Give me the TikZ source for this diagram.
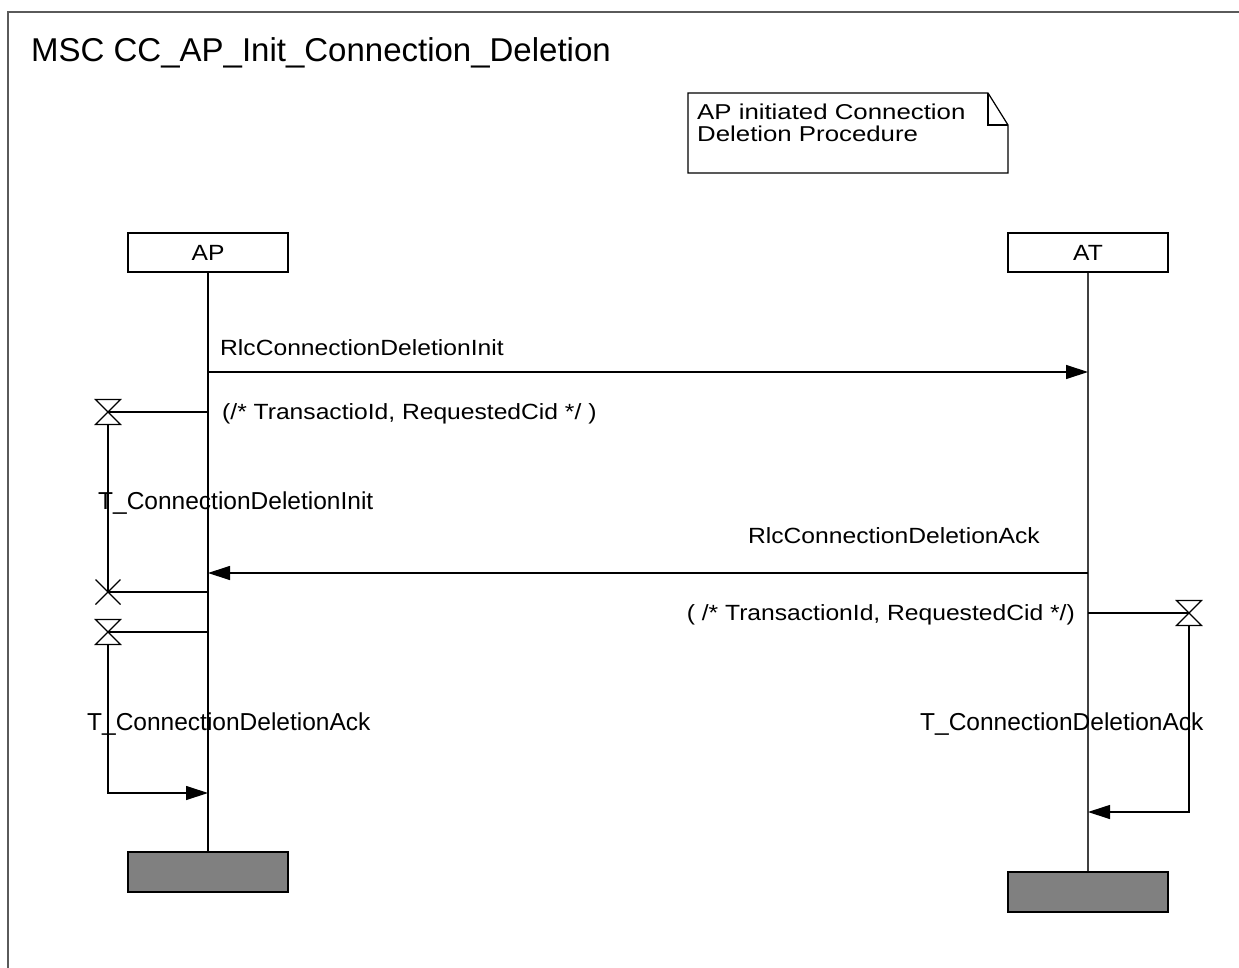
\documentclass[tikz,border=0pt]{standalone}
\usepackage{fontspec}
\setmainfont{Liberation Sans}
\newfontfamily\msgfont[FakeStretch=1.12]{Liberation Sans}
\newfontfamily\notefont[FakeStretch=1.2]{Liberation Sans}
\usetikzlibrary{arrows.meta}
\definecolor{endgray}{RGB}{128,128,128}
\definecolor{framegray}{RGB}{90,90,90}
\begin{document}
\begin{tikzpicture}[x=1pt,y=-1pt,
  ln/.style={line width=1.2pt, draw=black},
  msg/.style={ln, -{Triangle[length=22pt,width=14pt]}},
  headbox/.style={draw, line width=1.2pt, minimum width=160pt, minimum height=39pt, inner sep=0pt, font=\msgfont\fontsize{22}{26}\selectfont},
  endbox/.style={draw, line width=1.5pt, fill=endgray, minimum width=160pt, minimum height=40pt, inner sep=0pt},
  mlabel/.style={font=\msgfont\fontsize{22}{26}\selectfont, inner sep=0pt},
  tlabel/.style={font=\fontsize{24.5}{28}\selectfont, inner sep=0pt},
  nlabel/.style={font=\notefont\fontsize{21.5}{26}\selectfont, inner sep=0pt, anchor=base west},
  hourglass/.pic={\draw[ln] (-12.5,-12.5) -- (12.5,-12.5) -- (-12.5,12.5) -- (12.5,12.5) -- cycle;},
  timercross/.pic={\draw[ln] (-12.5,-12.5) -- (12.5,12.5) (12.5,-12.5) -- (-12.5,12.5);}
]
\useasboundingbox (0,0) rectangle (1239,968);
\fill[white] (0,0) rectangle (1239,968);

% frame
\draw[line width=1.5pt, framegray] (8,968) -- (8,12) -- (1239,12);
\node[anchor=base west, font=\fontsize{33}{38}\selectfont, inner sep=0pt] (title) at (31,62) {MSC CC\_AP\_Init\_Connection\_Deletion};

% comment note
\draw[ln] (688,93) -- (988,93) -- (1008,125) -- (1008,173) -- (688,173) -- cycle;
\draw[ln] (988,93) -- (988,125) -- (1008,125);
\node[nlabel] (note1) at (697,120) {AP initiated Connection};
\node[nlabel] (note2) at (697,142) {Deletion Procedure};

% instances
\node[headbox] (aphead) at (208,252.5) {AP};
\node[headbox] (athead) at (1088,252.5) {AT};
\node[endbox] (apend) at (208,872) {};
\node[endbox] (atend) at (1088,892) {};
\draw[ln] (aphead.south) -- (apend.north);
\draw[ln, draw=black!75] (athead.south) -- (atend.north);

% message 1
\coordinate (m1a) at (208,372);
\coordinate (m1b) at (1088,372);
\draw[msg] (m1a) -- (m1b);
\node[mlabel, anchor=base west] (l1) at (220,355) {RlcConnectionDeletionInit};
\node[mlabel, anchor=base west] (p1) at (222,419) {(/* TransactioId, RequestedCid */ )};

% timer 1 on AP (set, then reset)
\coordinate (t1on) at (208,412);
\coordinate (t1) at (108,412);
\coordinate (t1bot) at (108,424.5);
\coordinate (t1x) at (108,592);
\coordinate (t1off) at (208,592);
\draw[ln] (t1on) -- (t1);
\pic at (t1) {hourglass};
\draw[ln] (t1bot) -- (t1x);
\pic at (t1x) {timercross};
\draw[ln] (t1x) -- (t1off);
\node[tlabel, anchor=base west] (tl1) at (98,509) {T\_ConnectionDeletionInit};

% message 2
\coordinate (m2a) at (1088,573);
\coordinate (m2b) at (208,573);
\draw[msg] (m2a) -- (m2b);
\node[mlabel, anchor=base east] (l2) at (1040,543) {RlcConnectionDeletionAck};
\node[mlabel, anchor=base east] (p2) at (1075,620) {( /* TransactionId, RequestedCid */)};

% timer 2 on AP (set, then timeout)
\coordinate (t2on) at (208,632);
\coordinate (t2) at (108,632);
\coordinate (t2bot) at (108,644.5);
\coordinate (t2c) at (108,793);
\coordinate (t2off) at (208,793);
\draw[ln] (t2on) -- (t2);
\pic at (t2) {hourglass};
\draw[msg] (t2bot) -- (t2c) -- (t2off);
\node[tlabel, anchor=base west] (tl2) at (87,730) {T\_ConnectionDeletionAck};

% timer on AT (set, then timeout)
\coordinate (t3on) at (1088,613);
\coordinate (t3) at (1189,613);
\coordinate (t3bot) at (1189,625.5);
\coordinate (t3c) at (1189,812);
\coordinate (t3off) at (1088,812);
\draw[ln] (t3on) -- (t3);
\pic at (t3) {hourglass};
\draw[msg] (t3bot) -- (t3c) -- (t3off);
\node[tlabel, anchor=base west] (tl3) at (920,730) {T\_ConnectionDeletionAck};
\end{tikzpicture}
\end{document}
